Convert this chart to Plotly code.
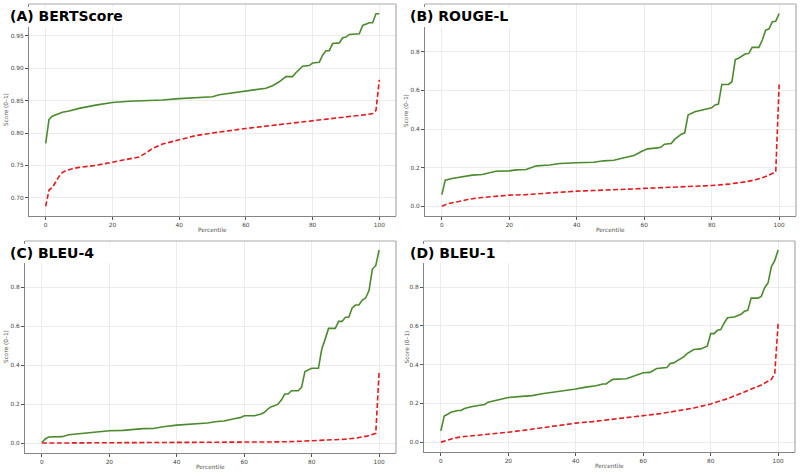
import plotly.graph_objects as go

# ---------------- data ----------------
titles = ["(A) BERTScore", "(B) ROUGE-L", "(C) BLEU-4", "(D) BLEU-1"]

bert_green_pct = [0, 1, 2, 3, 4, 5, 7, 10, 15, 20, 25, 30, 35, 40, 45, 50, 52, 55, 60, 63, 66, 68, 70, 72, 74, 75, 77, 79, 80, 82, 83, 84, 85, 86, 88, 89, 90, 91, 94, 95, 97, 98, 99, 100]
bert_green = [0.784, 0.821, 0.826, 0.828, 0.831, 0.832, 0.834, 0.838, 0.843, 0.847, 0.849, 0.8495, 0.851, 0.853, 0.855, 0.856, 0.859, 0.861, 0.864, 0.866, 0.869, 0.873, 0.879, 0.887, 0.887, 0.893, 0.903, 0.904, 0.908, 0.909, 0.920, 0.927, 0.927, 0.938, 0.939, 0.947, 0.948, 0.952, 0.953, 0.966, 0.970, 0.970, 0.984, 0.984]
bert_red_pct = [0, 1, 2, 3, 4, 5, 6, 8, 10, 15, 20, 25, 28, 30, 32, 35, 40, 45, 50, 55, 60, 65, 70, 75, 80, 85, 90, 95, 97, 98, 99, 100]
bert_red = [0.687, 0.712, 0.716, 0.725, 0.733, 0.739, 0.742, 0.745, 0.747, 0.750, 0.755, 0.759, 0.763, 0.769, 0.776, 0.783, 0.790, 0.796, 0.800, 0.804, 0.807, 0.810, 0.813, 0.815, 0.818, 0.821, 0.824, 0.827, 0.829, 0.830, 0.835, 0.882]

rouge_green_pct = [0, 1, 3, 5, 7, 9, 12, 14, 16, 20, 22, 25, 28, 32, 35, 40, 45, 48, 51, 54, 57, 59, 61, 64, 65, 66, 68, 69, 70, 71, 72, 73, 75, 77, 78, 80, 81, 82, 83, 85, 86, 87, 88, 90, 91, 92, 94, 95, 96, 97, 98, 99, 100]
rouge_green = [0.060, 0.135, 0.143, 0.149, 0.152, 0.161, 0.164, 0.173, 0.181, 0.183, 0.188, 0.190, 0.209, 0.213, 0.221, 0.225, 0.228, 0.235, 0.238, 0.251, 0.263, 0.282, 0.297, 0.302, 0.306, 0.321, 0.325, 0.346, 0.358, 0.373, 0.380, 0.472, 0.489, 0.496, 0.501, 0.510, 0.525, 0.529, 0.631, 0.631, 0.645, 0.760, 0.767, 0.790, 0.791, 0.823, 0.823, 0.861, 0.912, 0.919, 0.956, 0.959, 0.999]
rouge_red_pct = [0, 2, 5, 8, 12, 16, 20, 25, 30, 35, 40, 45, 50, 55, 60, 65, 70, 75, 80, 85, 88, 90, 93, 95, 97, 99, 100]
rouge_red = [0.000, 0.014, 0.024, 0.036, 0.045, 0.052, 0.057, 0.060, 0.067, 0.073, 0.078, 0.081, 0.086, 0.088, 0.092, 0.095, 0.098, 0.104, 0.107, 0.114, 0.121, 0.126, 0.137, 0.147, 0.161, 0.178, 0.631]

bleu4_green_pct = [0, 1, 2, 4, 6, 8, 10, 12, 15, 20, 24, 27, 30, 33, 36, 40, 45, 49, 52, 54, 57, 59, 60, 63, 65, 66, 67, 68, 69, 70, 71, 72, 73, 74, 76, 77, 78, 79, 80, 82, 83, 84, 85, 87, 88, 89, 90, 91, 92, 93, 94, 95, 96, 97, 98, 99, 100]
bleu4_green = [0.003, 0.021, 0.031, 0.033, 0.033, 0.043, 0.046, 0.051, 0.057, 0.063, 0.065, 0.070, 0.074, 0.075, 0.084, 0.092, 0.098, 0.103, 0.111, 0.113, 0.125, 0.132, 0.140, 0.140, 0.149, 0.158, 0.175, 0.187, 0.192, 0.200, 0.221, 0.252, 0.252, 0.269, 0.269, 0.286, 0.367, 0.375, 0.384, 0.384, 0.483, 0.534, 0.589, 0.589, 0.625, 0.625, 0.646, 0.646, 0.694, 0.709, 0.709, 0.735, 0.745, 0.783, 0.894, 0.911, 0.992]
bleu4_red_pct = [0, 10, 20, 40, 50, 60, 70, 75, 80, 85, 90, 93, 95, 97, 99, 100]
bleu4_red = [0.000, 0.0005, 0.001, 0.002, 0.003, 0.004, 0.006, 0.008, 0.011, 0.015, 0.020, 0.025, 0.030, 0.038, 0.050, 0.367]

bleu1_green_pct = [0, 1, 2, 3, 5, 6, 7, 9, 12, 13, 14, 16, 18, 20, 24, 27, 30, 34, 36, 40, 43, 46, 48, 49, 50, 51, 55, 57, 60, 62, 64, 67, 68, 69, 71, 72, 73, 74, 75, 77, 79, 80, 81, 82, 83, 84, 85, 87, 88, 89, 90, 91, 92, 94, 95, 96, 97, 98, 99, 100]
bleu1_green = [0.058, 0.135, 0.144, 0.154, 0.163, 0.163, 0.173, 0.183, 0.192, 0.194, 0.206, 0.214, 0.223, 0.230, 0.236, 0.240, 0.250, 0.259, 0.267, 0.274, 0.284, 0.291, 0.300, 0.300, 0.313, 0.324, 0.327, 0.341, 0.358, 0.360, 0.380, 0.385, 0.406, 0.409, 0.427, 0.440, 0.457, 0.466, 0.478, 0.481, 0.495, 0.560, 0.560, 0.577, 0.581, 0.615, 0.642, 0.646, 0.654, 0.660, 0.675, 0.680, 0.743, 0.743, 0.752, 0.797, 0.821, 0.906, 0.937, 0.992]
bleu1_red_pct = [0, 2, 4, 7, 10, 15, 20, 25, 30, 35, 40, 45, 50, 55, 60, 65, 70, 75, 80, 85, 90, 95, 98, 99, 100]
bleu1_red = [0.000, 0.012, 0.021, 0.029, 0.034, 0.041, 0.051, 0.062, 0.075, 0.087, 0.098, 0.106, 0.116, 0.125, 0.135, 0.147, 0.161, 0.176, 0.197, 0.224, 0.259, 0.295, 0.324, 0.355, 0.612]

x_ticks = [0, 20, 40, 60, 80, 100]
bert_y_ticks = [0.70, 0.75, 0.80, 0.85, 0.90, 0.95]
unit_y_ticks = [0.0, 0.2, 0.4, 0.6, 0.8]

x_label = "Percentile"
y_label = "Score (0–1)"

# ---------------- figure ----------------
W, H = 800, 474
GREEN = "#4c8a2e"
RED = "#e41a1c"
FONT = "DejaVu Sans"

panels = [
    dict(g=(bert_green_pct, bert_green), r=(bert_red_pct, bert_red), yt=bert_y_ticks, fmt=".2f",
         yr=[0.672, 0.999], box=(29, 396, 4, 216)),
    dict(g=(rouge_green_pct, rouge_green), r=(rouge_red_pct, rouge_red), yt=unit_y_ticks, fmt=".1f",
         yr=[-0.051, 1.048], box=(425, 796, 4, 216)),
    dict(g=(bleu4_green_pct, bleu4_green), r=(bleu4_red_pct, bleu4_red), yt=unit_y_ticks, fmt=".1f",
         yr=[-0.051, 1.038], box=(25, 396, 241, 453)),
    dict(g=(bleu1_green_pct, bleu1_green), r=(bleu1_red_pct, bleu1_red), yt=unit_y_ticks, fmt=".1f",
         yr=[-0.051, 1.038], box=(424, 795, 241, 452)),
]

fig = go.Figure()
layout = dict(
    width=W, height=H, margin=dict(l=0, r=0, t=0, b=0),
    paper_bgcolor="white", plot_bgcolor="white", showlegend=False,
    font=dict(family=FONT, color="#444444"),
)
shapes = []
annotations = []

def px_x(v):
    return v / W

def px_y(v):
    return 1 - v / H

for i, p in enumerate(panels, start=1):
    xa = "x" if i == 1 else f"x{i}"
    ya = "y" if i == 1 else f"y{i}"
    x0, x1, y0, y1 = p["box"]
    fig.add_trace(go.Scatter(x=p["g"][0], y=p["g"][1], mode="lines", xaxis=xa, yaxis=ya,
                             line=dict(color=GREEN, width=1.6)))
    fig.add_trace(go.Scatter(x=p["r"][0], y=p["r"][1], mode="lines", xaxis=xa, yaxis=ya,
                             line=dict(color=RED, width=1.6, dash="5px,2.5px")))
    axis_common = dict(
        showgrid=True, gridcolor="#ececec", gridwidth=0.8, zeroline=False,
        showline=True, linecolor="#858585", linewidth=1.3,
        ticks="outside", ticklen=3, tickwidth=0.8, tickcolor="#555555",
        tickfont=dict(family=FONT, size=5.8, color="#444444"),
    )
    layout["xaxis" if i == 1 else f"xaxis{i}"] = dict(
        axis_common, domain=[px_x(x0), px_x(x1)], range=[-5, 105],
        tickvals=x_ticks, anchor=ya,
    )
    layout["yaxis" if i == 1 else f"yaxis{i}"] = dict(
        axis_common, domain=[px_y(y1), px_y(y0)], range=p["yr"],
        tickvals=p["yt"], tickformat=p["fmt"], anchor=xa,
    )
    # top / right spines (lighter)
    shapes.append(dict(type="line", xref="paper", yref="paper", layer="above",
                       x0=px_x(x0), x1=px_x(x1), y0=px_y(y0), y1=px_y(y0),
                       line=dict(color="#aaaaaa", width=1.2)))
    shapes.append(dict(type="line", xref="paper", yref="paper", layer="above",
                       x0=px_x(x1), x1=px_x(x1), y0=px_y(y0), y1=px_y(y1),
                       line=dict(color="#aaaaaa", width=1.2)))
    # white title box
    bx0 = 0 if x0 < 400 else 400
    shapes.append(dict(type="rect", xref="paper", yref="paper", layer="above",
                       x0=px_x(bx0 + 2), x1=px_x(bx0 + 160), y0=px_y(y0 + 3), y1=px_y(y0 + 23 if i <= 2 else y0 + 22),
                       fillcolor="white", line=dict(width=0)))
    annotations.append(dict(text=f"<b>{titles[i-1]}</b>", xref="paper", yref="paper",
                            x=px_x(bx0 + 8), y=px_y(y0 + 12), xanchor="left", yanchor="middle",
                            showarrow=False, font=dict(family=FONT, size=14, color="black")))
    # axis titles
    annotations.append(dict(text=x_label, xref="paper", yref="paper",
                            x=px_x((x0 + x1) / 2), y=px_y(y1 + 14), xanchor="center", yanchor="middle",
                            showarrow=False, font=dict(family=FONT, size=5.8, color="#555555")))
    annotations.append(dict(text=y_label, xref="paper", yref="paper", textangle=-90,
                            x=px_x(bx0 + 6), y=px_y((y0 + y1) / 2), xanchor="center", yanchor="middle",
                            showarrow=False, font=dict(family=FONT, size=5.8, color="#555555")))

layout["shapes"] = shapes
layout["annotations"] = annotations
fig.update_layout(**layout)
fig.write_html("out.html")
